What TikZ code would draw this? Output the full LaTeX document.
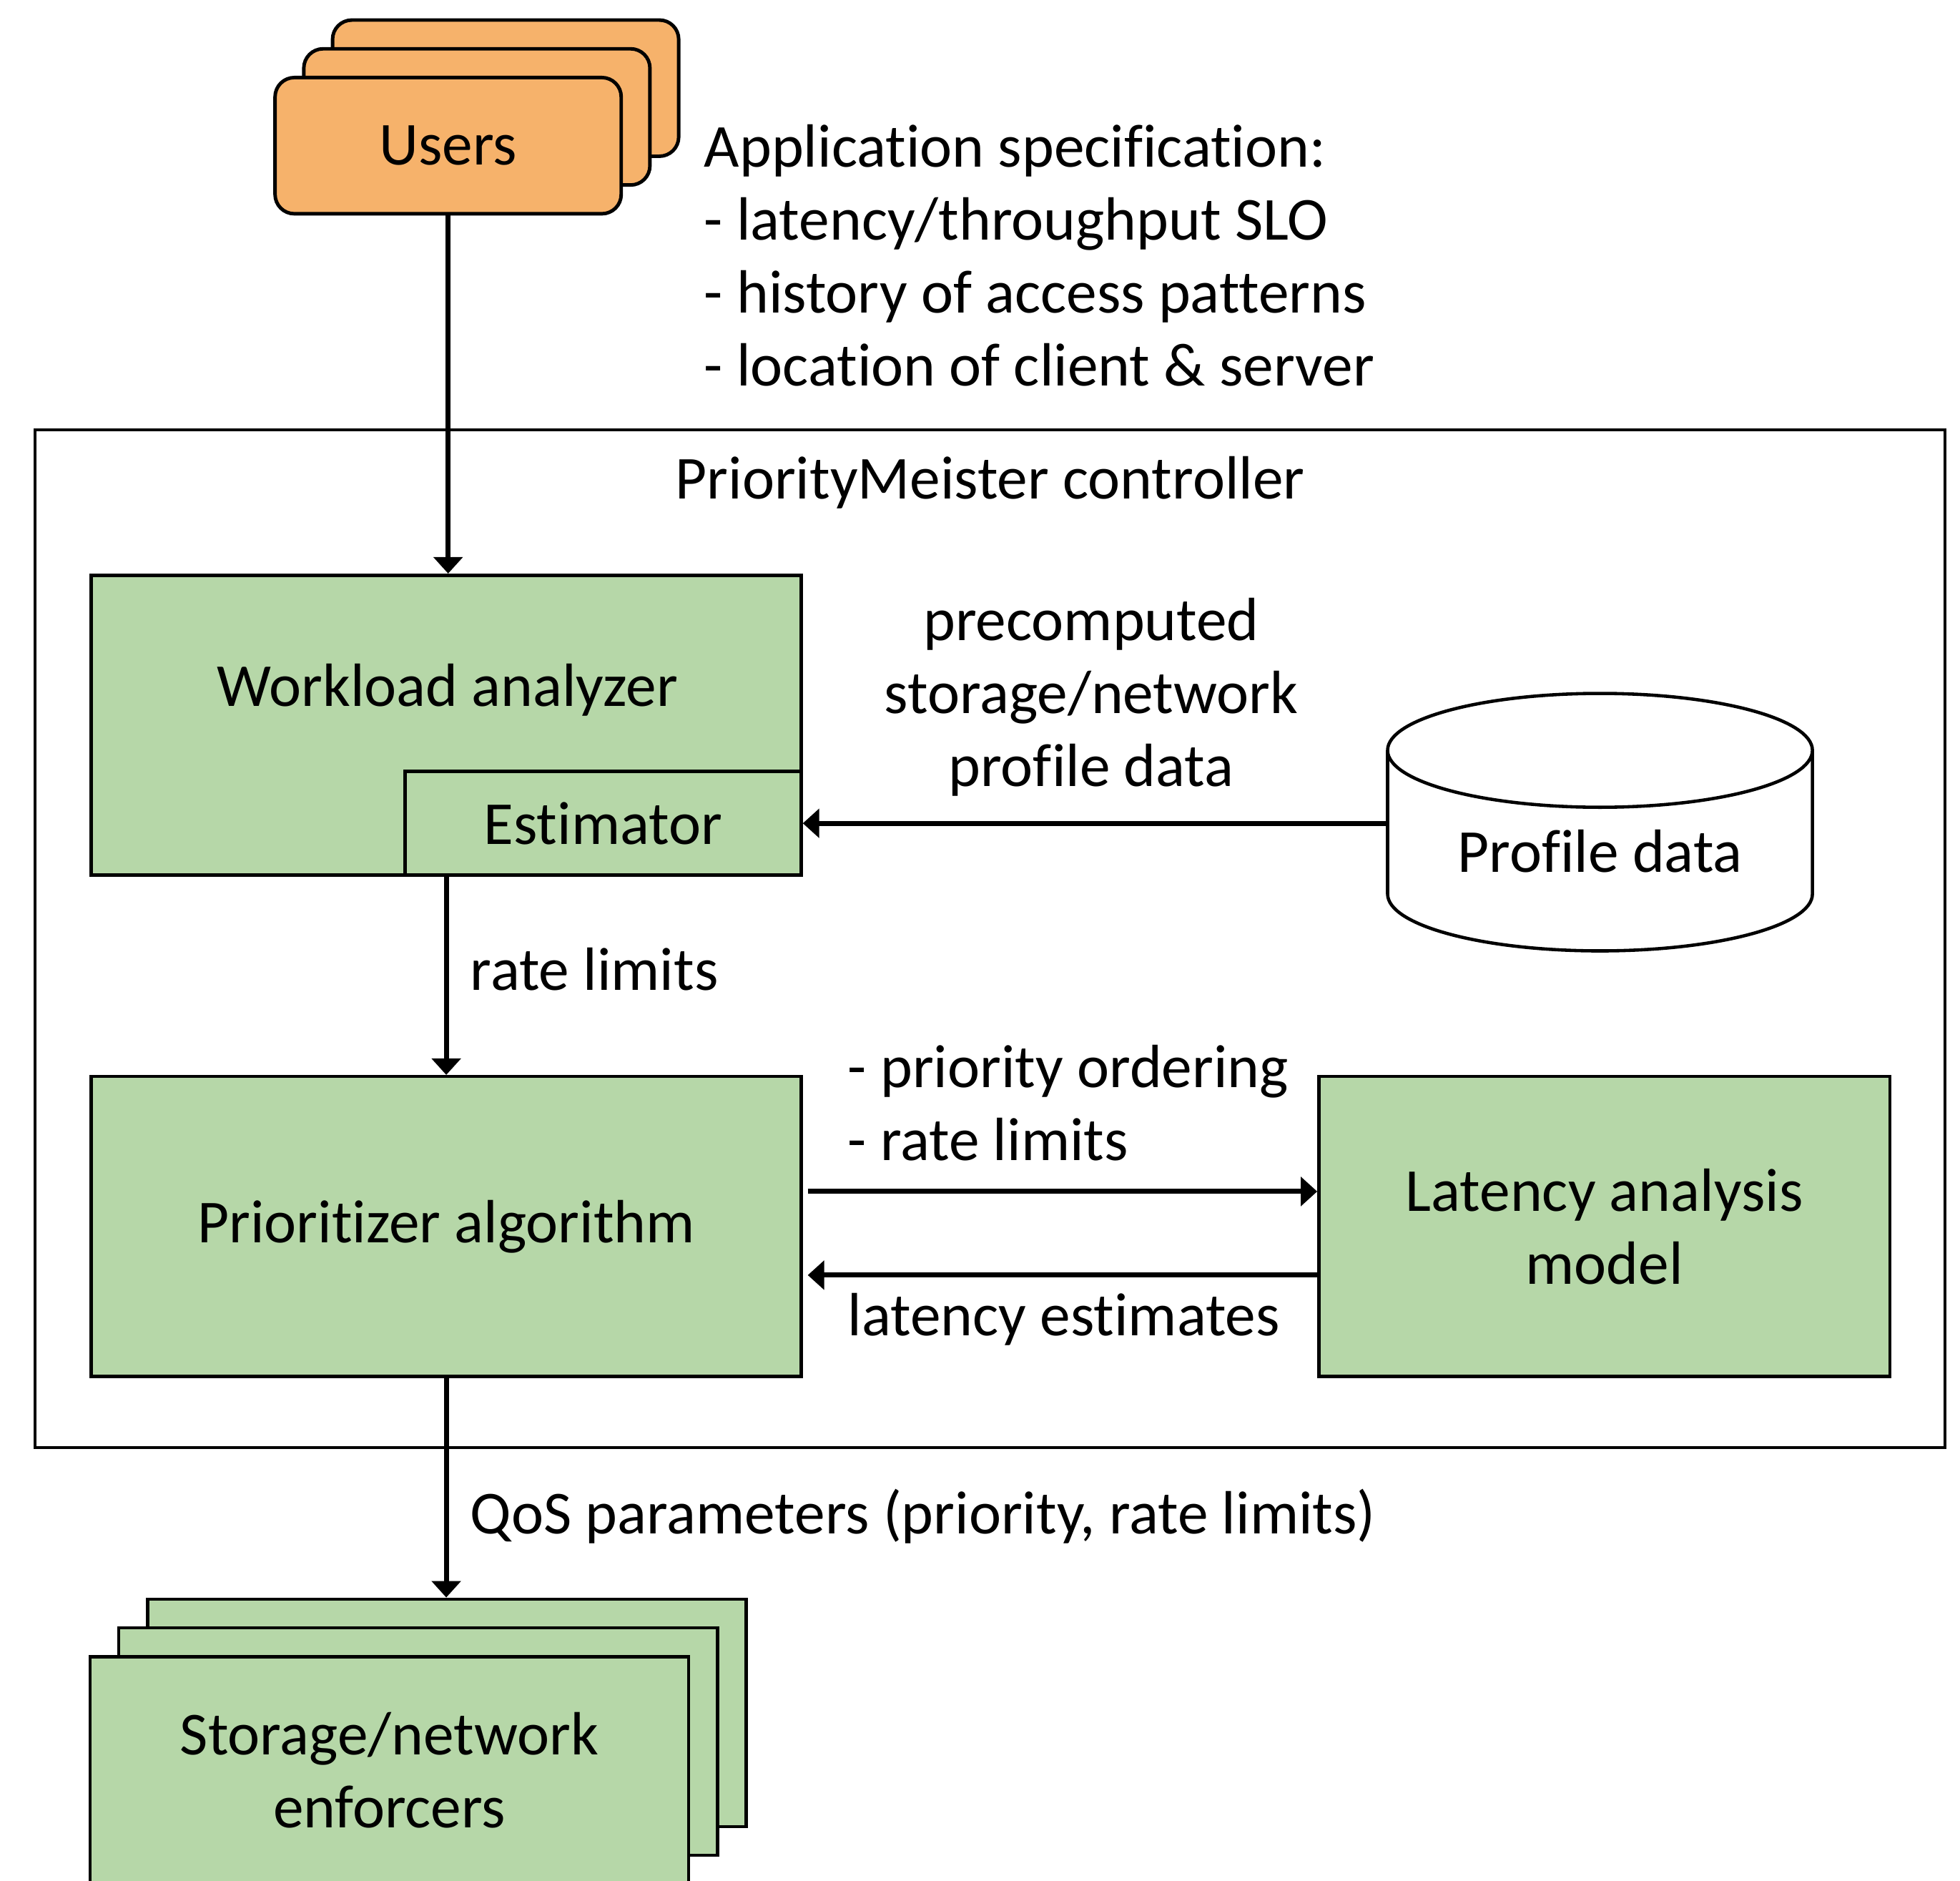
\documentclass[tikz,border=0pt]{standalone}
\usepackage{fontspec}
\setmainfont{Carlito}[Ligatures=NoCommon]
\usetikzlibrary{arrows.meta,shapes.geometric}
\definecolor{userorange}{RGB}{246,178,107}
\definecolor{boxgreen}{RGB}{182,215,168}

\begin{document}
\begin{tikzpicture}[x=0.01748cm,y=-0.01748cm,
	font=\fontsize{24.3}{29}\selectfont,
	userbox/.style={draw,line width=1.4pt,fill=userorange,rounded corners=0.27cm,minimum width=4.842cm,minimum height=1.905cm,inner sep=0pt},
	greenbox/.style={draw,line width=1.3pt,fill=boxgreen,inner sep=0pt,align=center},
	flow/.style={line width=2pt,-{Triangle[length=0.23cm,width=0.4cm]}},
	note/.style={inner sep=0pt,align=left}]
	\useasboundingbox (0,0) rectangle (1568,1504);

	\draw[line width=1.2pt] (28,344) rectangle (1556,1158);
	\node (ctrl) at (792,386) {PriorityMeister controller};

	\foreach \d/\n in {2/users3,1/users2}
		\node[userbox] (\n) at (358.5+\d*23,116.5-\d*23) {};
	\node[userbox] (users) at (358.5,116.5) {Users};
	\node[note,anchor=west] (spec) at (563,204.5) {Application specification:\\- latency/throughput SLO\\- history of access patterns\\- location of client \& server};

	\node[greenbox,minimum width=9.929cm,minimum height=4.195cm] (wa) at (357,580) {};
	\node at (358,552) {Workload analyzer};
	\node[greenbox,minimum width=5.541cm,minimum height=1.451cm] (est) at (482.5,658.5) {Estimator};
	\node[draw,line width=1.3pt,cylinder,shape border rotate=90,shape aspect=0.4,minimum width=5.943cm,minimum height=3.601cm,inner sep=0pt] (pd) at (1280,681) {Profile data};
	\node[note,align=center] (pre) at (873,557.5) {precomputed\\storage/network\\profile data};

	\node[greenbox,minimum width=9.929cm,minimum height=4.195cm] (prio) at (357,981) {Prioritizer algorithm};
	\node[greenbox,minimum width=7.988cm,minimum height=4.195cm] (lat) at (1283.5,981) {Latency analysis\\model};
	\node[note,anchor=west] (rl) at (376,775) {rate limits};
	\node[note,anchor=west] (ord) at (678,882) {- priority ordering\\- rate limits};
	\node[note,anchor=west] (le) at (678,1055) {latency estimates};
	\node[note,anchor=west] (qos) at (376,1213) {QoS parameters (priority, rate limits)};

	\foreach \d/\n in {2/enf3,1/enf2}
		\node[greenbox,minimum width=8.373cm,minimum height=3.181cm] (\n) at (311.5+\d*23,1416-\d*23) {};
	\node[greenbox,minimum width=8.373cm,minimum height=3.181cm] (enf) at (311.5,1416) {Storage/network\\enforcers};

	\draw[flow] (users.south) -- (users.south |- wa.north);
	\draw[flow] (pd.west |- est.east) -- (est.east);
	\draw[flow] (wa.south) -- (prio.north);
	\draw[flow] ([yshift=0.49cm,xshift=0.07cm]prio.east) -- ([yshift=0.49cm]lat.west);
	\draw[flow] ([yshift=-0.68cm]lat.west) -- ([yshift=-0.68cm,xshift=0.07cm]prio.east);
	\draw[flow] (prio.south) -- (prio.south |- enf3.north);
\end{tikzpicture}
\end{document}
